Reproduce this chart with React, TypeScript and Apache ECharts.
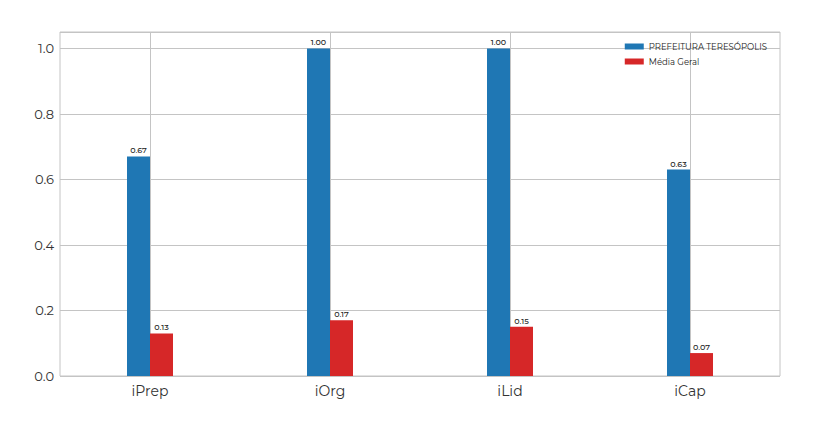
import { useEffect, useRef } from "react";
import * as echarts from "echarts";

const categories = ["iPrep", "iOrg", "iLid", "iCap"];
const prefeitura = [0.67, 1.0, 1.0, 0.63];
const mediaGeral = [0.13, 0.17, 0.15, 0.07];
const seriesNames = ["PREFEITURA TERESÓPOLIS", "Média Geral"];

const FONT = "Montserrat, 'Open Sans', 'DejaVu Sans', sans-serif";

export default function App() {
  const chartRef = useRef<HTMLDivElement>(null);

  useEffect(() => {
    if (!chartRef.current) return;
    const chart = echarts.init(chartRef.current, undefined, { renderer: "svg" });

    const barLabel = {
      show: true,
      position: "top" as const,
      distance: 2,
      fontSize: 8,
      fontWeight: 500 as const,
      color: "#222",
      fontFamily: FONT,
      formatter: (p: any) => Number(p.value).toFixed(2),
    };

    chart.setOption({
      animation: false,
      backgroundColor: "#fff",
      grid: {
        left: 60,
        right: 34,
        top: 32,
        bottom: 46,
        show: true,
        borderColor: "#c4c4c4",
        borderWidth: 1,
      },
      legend: {
        orient: "vertical",
        right: 42,
        top: 37,
        itemWidth: 19,
        itemHeight: 6,
        itemGap: 6,
        icon: "rect",
        textStyle: { fontSize: 8.5, color: "#222", fontFamily: FONT, padding: [0, 0, 0, 0] },
        data: seriesNames,
      },
      xAxis: {
        type: "category",
        data: categories,
        axisLine: { show: false },
        axisTick: { show: false },
        axisLabel: { fontSize: 14, color: "#333", margin: 8, fontFamily: FONT },
        splitLine: {
          show: true,
          alignWithLabel: true,
          lineStyle: { color: "#c4c4c4", width: 1 },
        },
      },
      yAxis: {
        type: "value",
        min: 0,
        max: 1.05,
        interval: 0.2,
        axisLine: { show: false },
        axisTick: { show: false },
        axisLabel: {
          fontSize: 13,
          color: "#333",
          margin: 6,
          fontFamily: FONT,
          showMaxLabel: false,
          formatter: (v: number) =>
            Math.abs(v * 5 - Math.round(v * 5)) < 1e-6 ? v.toFixed(1) : "",
        },
        splitLine: { lineStyle: { color: "#c4c4c4", width: 1 } },
      },
      series: [
        {
          name: seriesNames[0],
          type: "bar",
          data: prefeitura,
          barWidth: 23,
          barGap: "0%",
          itemStyle: { color: "#1f77b4" },
          label: barLabel,
        },
        {
          name: seriesNames[1],
          type: "bar",
          data: mediaGeral,
          barWidth: 23,
          barGap: "0%",
          itemStyle: { color: "#d62728" },
          label: barLabel,
        },
      ],
    });

    return () => chart.dispose();
  }, []);

  return (
    <div
      ref={chartRef}
      style={{ position: "fixed", left: 0, top: 0, width: 814, height: 422 }}
    />
  );
}
